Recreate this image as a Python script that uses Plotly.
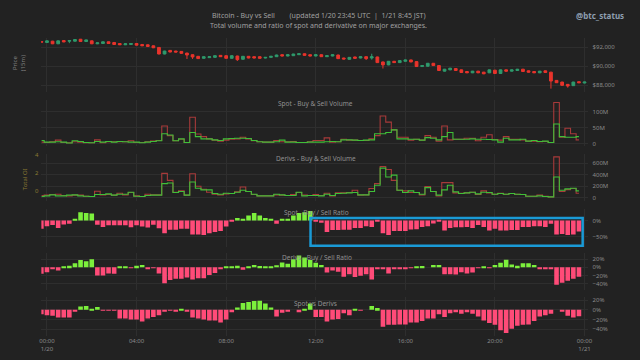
import pandas as pd
import plotly.graph_objects as go

# ---------------- data ----------------
candle_open = [92590, 92490, 92625, 92350, 92690, 92625, 92625, 92830, 92590, 92660,
               92350, 92380, 92560, 92490, 92380, 92245, 92280, 92380, 92280, 92245,
               92140, 91970, 91280, 91660, 91590, 91555, 91380, 91210, 91040, 90830,
               90900, 90930, 91140, 91105, 90830, 91070, 90730, 91040, 91000, 91000,
               90860, 90930, 91000, 91210, 91070, 91105, 91210, 91310, 91210, 91070,
               91210, 91000, 91070, 91175, 90860, 90725, 90970, 90860, 91000, 90860,
               90970, 90450, 90140, 90520, 90380, 90520, 90660, 90485, 89966, 90000,
               90310, 90070, 89483, 89621, 89760, 89621, 89448, 89310, 89483, 89380,
               89310, 89586, 89240, 89621, 89483, 89552, 89690, 89517, 89448, 89310,
               89517, 89379, 88516, 88343, 88101, 87964, 88378, 88240]
candle_high = [92620, 92700, 92660, 92690, 92720, 92720, 92830, 92860, 92790, 92690,
               92480, 92590, 92590, 92520, 92410, 92380, 92410, 92410, 92310, 92280,
               92170, 92000, 91620, 91690, 91620, 91590, 91410, 91240, 91070, 91030,
               91030, 91140, 91170, 91140, 91140, 91100, 91070, 91070, 91030, 91030,
               90960, 91070, 91210, 91240, 91240, 91310, 91340, 91340, 91240, 91240,
               91240, 91140, 91240, 91210, 90890, 90960, 91000, 91030, 91030, 91310,
               91000, 90480, 90550, 90550, 90620, 90690, 90690, 90520, 90100, 90340,
               90340, 90100, 89720, 89830, 89790, 89650, 89480, 89510, 89510, 89410,
               89650, 89620, 89650, 89650, 89650, 89720, 89720, 89550, 89480, 89510,
               89550, 89410, 88550, 88370, 88130, 88370, 88410, 88370]
candle_low = [92500, 92460, 92320, 92330, 92520, 92420, 92600, 92560, 92560, 92320,
              92320, 92350, 92350, 92250, 92220, 92220, 92250, 92180, 92110, 92040,
              91900, 91250, 91250, 91460, 91460, 91320, 90760, 90760, 90770, 90800,
              90870, 90900, 90970, 90800, 90800, 90550, 90700, 90830, 90830, 90800,
              90830, 90900, 90970, 91040, 91040, 91070, 91180, 91110, 91040, 91040,
              90970, 90970, 91040, 90760, 90730, 90700, 90800, 90830, 90660, 90690,
              90350, 89760, 90110, 90350, 90350, 90490, 90420, 89930, 89930, 89970,
              90040, 89520, 89450, 89590, 89520, 89310, 89280, 89280, 89280, 89170,
              89280, 89210, 89210, 89450, 89450, 89520, 89420, 89350, 89280, 89280,
              89310, 87653, 88240, 87970, 87757, 87930, 88240, 88210]
candle_close = [92520, 92660, 92350, 92660, 92550, 92690, 92800, 92590, 92760, 92350,
                92450, 92560, 92380, 92280, 92245, 92350, 92380, 92210, 92140, 92070,
                91935, 91280, 91590, 91490, 91490, 91350, 91175, 90970, 90800, 91000,
                91000, 91105, 91000, 90830, 91105, 90690, 91040, 90860, 90860, 90830,
                90930, 91040, 91175, 91070, 91210, 91280, 91310, 91140, 91070, 91210,
                91000, 91105, 91210, 90795, 90760, 90930, 90830, 91000, 90795, 91000,
                90380, 90140, 90520, 90380, 90590, 90660, 90450, 89966, 90070, 90310,
                90070, 89552, 89690, 89794, 89552, 89345, 89310, 89483, 89310, 89207,
                89621, 89240, 89621, 89483, 89621, 89690, 89448, 89379, 89310, 89483,
                89345, 88447, 88274, 87998, 87929, 88343, 88274, 88343]

# volumes in million USD
spot_buy = [10, 5, 5, 6, 5, 2, 9, 7, 4, 3, 7, 5, 7, 5, 7, 6, 5, 5, 3, 5,
            7, 9, 31, 27, 9, 15, 4, 35, 22, 15, 15, 12, 10, 15, 16, 17, 17, 16, 10, 6,
            5, 5, 6, 11, 5, 5, 4, 4, 5, 5, 5, 6, 7, 6, 12, 12, 11, 10, 11, 12,
            31, 31, 35, 43, 15, 15, 14, 14, 11, 19, 17, 12, 22, 35, 14, 14, 14, 15, 14, 14,
            13, 12, 5, 17, 12, 12, 14, 8, 10, 7, 8, 4, 61, 22, 20, 20, 22]
spot_sell = [5, 4, 6, 11, 4, 3, 6, 5, 3, 3, 12, 3, 6, 6, 6, 6, 9, 4, 4, 6,
             8, 10, 55, 25, 9, 14, 4, 82, 30, 22, 15, 11, 8, 11, 14, 15, 20, 15, 9, 6,
             5, 5, 10, 6, 6, 7, 4, 4, 6, 10, 10, 18, 5, 6, 14, 11, 11, 10, 10, 15,
             25, 86, 67, 43, 20, 20, 11, 14, 11, 25, 20, 8, 55, 12, 14, 14, 17, 17, 9, 20,
             28, 13, 11, 22, 14, 14, 12, 8, 8, 6, 7, 4, 128, 20, 48, 31, 12]
deriv_buy = [23, 34, 51, 34, 34, 46, 51, 34, 28, 23, 57, 57, 68, 46, 63, 63, 97, 28, 23, 40,
             46, 46, 245, 256, 91, 108, 46, 274, 165, 137, 137, 74, 63, 80, 74, 97, 131, 108, 63, 34,
             34, 34, 63, 51, 40, 40, 97, 34, 40, 40, 34, 63, 40, 74, 80, 85, 91, 51, 51, 108,
             217, 513, 359, 393, 131, 91, 120, 91, 63, 177, 108, 46, 137, 217, 103, 74, 85, 97, 68, 97,
             91, 63, 74, 63, 74, 63, 57, 28, 28, 34, 23, 17, 359, 131, 154, 165, 120]
deriv_sell = [40, 46, 57, 63, 40, 34, 46, 46, 28, 23, 114, 51, 57, 46, 80, 51, 91, 34, 23, 63,
              51, 51, 422, 302, 97, 120, 46, 416, 200, 148, 97, 63, 51, 68, 74, 103, 188, 108, 57, 34,
              34, 34, 51, 46, 40, 57, 91, 46, 40, 57, 40, 80, 34, 85, 85, 91, 131, 46, 51, 160,
              245, 541, 490, 302, 131, 120, 91, 91, 51, 194, 108, 34, 262, 262, 85, 80, 85, 97, 57, 120,
              85, 63, 80, 63, 74, 63, 57, 28, 28, 46, 28, 17, 707, 108, 142, 160, 80]

# ratios in percent
spot_ratio = [-26, -18, -14, -23, -12, -10, 3, 26, 24, 22, -13, -20, -15, -15, -15, -15, -21, -15, -19, -22,
              -13, -24, -40, -29, -29, -26, -26, -44, -44, -45, -40, -36, -33, -19, -3, 8, 5, 16, 24, 16,
              8, 5, -10, 5, 5, 16, 24, 26, 30, -3, -7, -36, -30, -30, -29, -29, -23, -23, -18, -20,
              -2, -40, -45, -33, -33, -33, -28, -27, -20, -18, -9, -2, -31, -23, -21, -21, -20, -23, -14, -20,
              -31, -26, -31, -31, -30, -30, -20, -20, -18, -18, -20, -10, -44, -42, -45, -44, -34]
deriv_ratio = [-16, -12, -4, -8, 2, 4, 10, 18, 15, 20, -20, -20, -15, -16, 0.5, 1.5, -2, 4, 6, -5,
               -0.5, -15, -39, -31, -28, -28, -25, -30, -27, -27, -19, -14, -5, 0.5, 1, 4, -6, 0.5, 6, 3,
               2, 2, 5, 12, 9, 20, 29, 24, 18, 11, 6, -13, -8, -11, -23, -17, -24, -21, -17, -30,
               -5, -4, -15, -3, -3, -3, -2, 2, 3, 0, 6, 6, -17, -17, -18, -12, -15, -13, -2, 0.5,
               -2, 6, 11, 19, 7, 4, 10, 10, 6, -3, -3, -3, -43, -38, -33, -28, -23]
spot_vs_deriv = [-9, -11, -12, -16, -16, -16, -3, 7, 8, 1, 6, -1, -1, -1, -18, -18, -20, -20, -24, -18,
                 -15, -11, -3, -1, -2, 1, -2, -16, -18, -20, -22, -22, -26, -20, -5, 5, 14, 16, 18, 19,
                 13, 5, -14, -6, -2, 0, -5, 2, 13, -15, -15, -24, -20, -19, -7, -11, 1, -1, 0, 8,
                 4, -35, -31, -31, -30, -30, -26, -26, -23, -18, -18, -9, -15, -7, -5, -8, -5, -8, -14, -22,
                 -27, -31, -42, -48, -39, -33, -31, -30, -23, -14, -11, -8, 0, -3, -12, -16, -13]

x_tick_labels = ["00:00<br>1/20", "04:00", "08:00", "12:00", "16:00", "20:00", "00:00<br>1/21"]
price_ticks = [88000, 90000, 92000]
spot_vol_ticks = [0, 50, 100]
spot_vol_labels = ["0", "50M", "100M"]
deriv_vol_ticks = [0, 200, 400, 600]
deriv_vol_labels = ["0", "200M", "400M", "600M"]
oi_ticks = [0, 2, 4]
spot_ratio_ticks = [0, -50]
spot_ratio_labels = ["0%", "\u221250%"]
ratio_ticks = [20, 0, -20, -40]
ratio_labels = ["20%", "0%", "\u221220%", "\u221240%"]

bar_times = pd.date_range("2026-01-19 23:45", periods=len(spot_ratio), freq="15min")
candle_times = pd.date_range("2026-01-19 23:45", periods=len(candle_open), freq="15min")
tick_times = pd.date_range("2026-01-20 00:00", periods=len(x_tick_labels), freq="4h")

# ---------------- style ----------------
W, H = 640, 360
BG = "#222222"
GRID = "#2e2e2e"
TXT = "#8a8a8a"
FONT = "Noto Sans"
INC = "#2f9a6c"
DEC = "#e8342c"
SELL = "#a83a3a"
BUY = "#3fbf38"
GREEN = "#7cf03c"
PINK = "#ff4b78"
BOX = "#1a9ad6"
GOLD = "#8a7a33"


def px(x):
    return x / W


def py(y):
    return 1 - y / H


X_DOM = [px(39.8), px(592)]
X_RANGE = ["2026-01-19 23:45", "2026-01-21 00:08"]
PANELS = {1: (35, 90), 2: (98, 145), 3: (153, 200), 4: (208, 247), 5: (253, 290), 6: (297, 337)}

fig = go.Figure()

fig.add_trace(go.Candlestick(
    x=candle_times, open=candle_open, high=candle_high, low=candle_low, close=candle_close,
    increasing=dict(line=dict(color=INC, width=1), fillcolor=INC),
    decreasing=dict(line=dict(color=DEC, width=1), fillcolor=DEC),
    whiskerwidth=0, xaxis="x", yaxis="y", showlegend=False, hoverinfo="skip"))

fig.add_trace(go.Scatter(x=bar_times, y=spot_sell, mode="lines", line=dict(shape="hvh", color=SELL, width=1.1),
                         xaxis="x2", yaxis="y2", showlegend=False))
fig.add_trace(go.Scatter(x=bar_times, y=spot_buy, mode="lines", line=dict(shape="hvh", color=BUY, width=1.1),
                         xaxis="x2", yaxis="y2", showlegend=False))
fig.add_trace(go.Scatter(x=bar_times, y=deriv_sell, mode="lines", line=dict(shape="hvh", color=SELL, width=1.1),
                         xaxis="x3", yaxis="y3", showlegend=False))
fig.add_trace(go.Scatter(x=bar_times, y=deriv_buy, mode="lines", line=dict(shape="hvh", color=BUY, width=1.1),
                         xaxis="x3", yaxis="y3", showlegend=False))
fig.add_trace(go.Scatter(x=[], y=[], mode="lines", xaxis="x3", yaxis="y7", showlegend=False))

for k, series in ((4, spot_ratio), (5, deriv_ratio), (6, spot_vs_deriv)):
    fig.add_trace(go.Bar(x=bar_times, y=series,
                         marker=dict(color=[GREEN if v >= 0 else PINK for v in series], line=dict(width=0)),
                         xaxis=f"x{k}", yaxis=f"y{k}", showlegend=False))

tickfont = dict(size=6, color=TXT, family=FONT)
layout = dict(
    width=W, height=H, margin=dict(l=0, r=0, t=0, b=0),
    paper_bgcolor=BG, plot_bgcolor=BG, bargap=0.18, showlegend=False,
    font=dict(family=FONT, color=TXT, size=6),
)

for k in range(1, 7):
    name = "xaxis" if k == 1 else f"xaxis{k}"
    ax = dict(domain=X_DOM, range=X_RANGE, type="date", anchor="y" if k == 1 else f"y{k}",
              tickmode="array", tickvals=tick_times, ticktext=x_tick_labels,
              showticklabels=(k == 6), showgrid=True, gridcolor=GRID, gridwidth=1,
              zeroline=False, showline=False, ticks="", tickfont=tickfont)
    if k > 1:
        ax["matches"] = "x"
    if k == 1:
        ax["rangeslider"] = dict(visible=False)
    layout[name] = ax

yranges = {1: [87300, 93000], 2: [-8.3, 136], 3: [-51, 752], 4: [-84, 37.5], 5: [-55.4, 34.9], 6: [-54.5, 27.1]}
yticks = {1: (price_ticks, None, "$,.0f"),
          2: (spot_vol_ticks, spot_vol_labels, None),
          3: (deriv_vol_ticks, deriv_vol_labels, None),
          4: (spot_ratio_ticks, spot_ratio_labels, None),
          5: (ratio_ticks, ratio_labels, None),
          6: (ratio_ticks, ratio_labels, None)}
for k in range(1, 7):
    name = "yaxis" if k == 1 else f"yaxis{k}"
    top, bot = PANELS[k]
    vals, texts, fmt = yticks[k]
    ax = dict(domain=[py(bot), py(top)], range=yranges[k], anchor="x" if k == 1 else f"x{k}",
              side="right", tickmode="array", tickvals=vals, showgrid=True, gridcolor=GRID,
              zeroline=False, showline=False, ticks="", tickfont=tickfont,
              ticklabelstandoff=4)
    if texts:
        ax["ticktext"] = texts
    if fmt:
        ax["tickformat"] = fmt
    layout[name] = ax

layout["yaxis7"] = dict(overlaying="y3", anchor="x3", side="left", range=[-1.1, 4.05],
                        tickmode="array", tickvals=oi_ticks, showgrid=False, zeroline=False,
                        showline=False, ticks="", tickfont=dict(size=6, color=GOLD, family=FONT),
                        ticklabelstandoff=2)

fig.update_layout(**layout)

# blue highlight box on spot ratio panel
fig.add_shape(type="rect", xref="x4", yref="y4", x0="2026-01-20 11:46", x1="2026-01-20 23:55",
              y0=8.4, y1=-79, line=dict(color=BOX, width=2.5), fillcolor="rgba(0,0,0,0)", layer="above")

annos = [
    dict(text="Bitcoin - Buy vs Sell\u00a0\u00a0\u00a0\u00a0\u00a0\u00a0\u00a0\u00a0(updated 1/20 23:45 UTC\u00a0\u00a0|\u00a0\u00a01/21 8:45 JST)",
         x=px(320), y=py(13), size=7, color="#a0a0a0"),
    dict(text="Total volume and ratio of spot and derivative on major exchanges.",
         x=px(320), y=py(22.5), size=7, color="#a0a0a0"),
    dict(text="Spot - Buy & Sell Volume", x=px(317), y=py(102), size=6.5, color="#909090"),
    dict(text="Derivs - Buy & Sell Volume", x=px(317), y=py(157), size=6.5, color="#909090"),
    dict(text="Spot - Buy / Sell Ratio", x=px(318), y=py(212), size=6.5, color="#909090"),
    dict(text="Derivs - Buy / Sell Ratio", x=px(318), y=py(257), size=6.5, color="#909090"),
    dict(text="Spot vs Derivs", x=px(317), y=py(304), size=6.5, color="#909090"),
]
for a in annos:
    fig.add_annotation(text=a["text"], x=a["x"], y=a["y"], xref="paper", yref="paper",
                       xanchor="center", yanchor="middle", showarrow=False,
                       font=dict(size=a["size"], color=a["color"], family=FONT))

fig.add_annotation(text="<b>@btc_status</b>", x=px(631), y=py(13), xref="paper", yref="paper",
                   xanchor="right", yanchor="middle", showarrow=False,
                   font=dict(size=8, color="#8e9fb0", family=FONT))
fig.add_annotation(text="Price<br>(15m)", x=px(18), y=py(61), xref="paper", yref="paper",
                   xanchor="center", yanchor="middle", showarrow=False, textangle=-90,
                   font=dict(size=6, color="#808080", family=FONT))
fig.add_annotation(text="Total OI", x=px(23.5), y=py(178), xref="paper", yref="paper",
                   xanchor="center", yanchor="middle", showarrow=False, textangle=-90,
                   font=dict(size=6, color=GOLD, family=FONT))

fig.write_html("out.html", config={"displayModeBar": False},
               post_script="document.body.style.margin='0px';document.body.style.background='%s';" % BG)
